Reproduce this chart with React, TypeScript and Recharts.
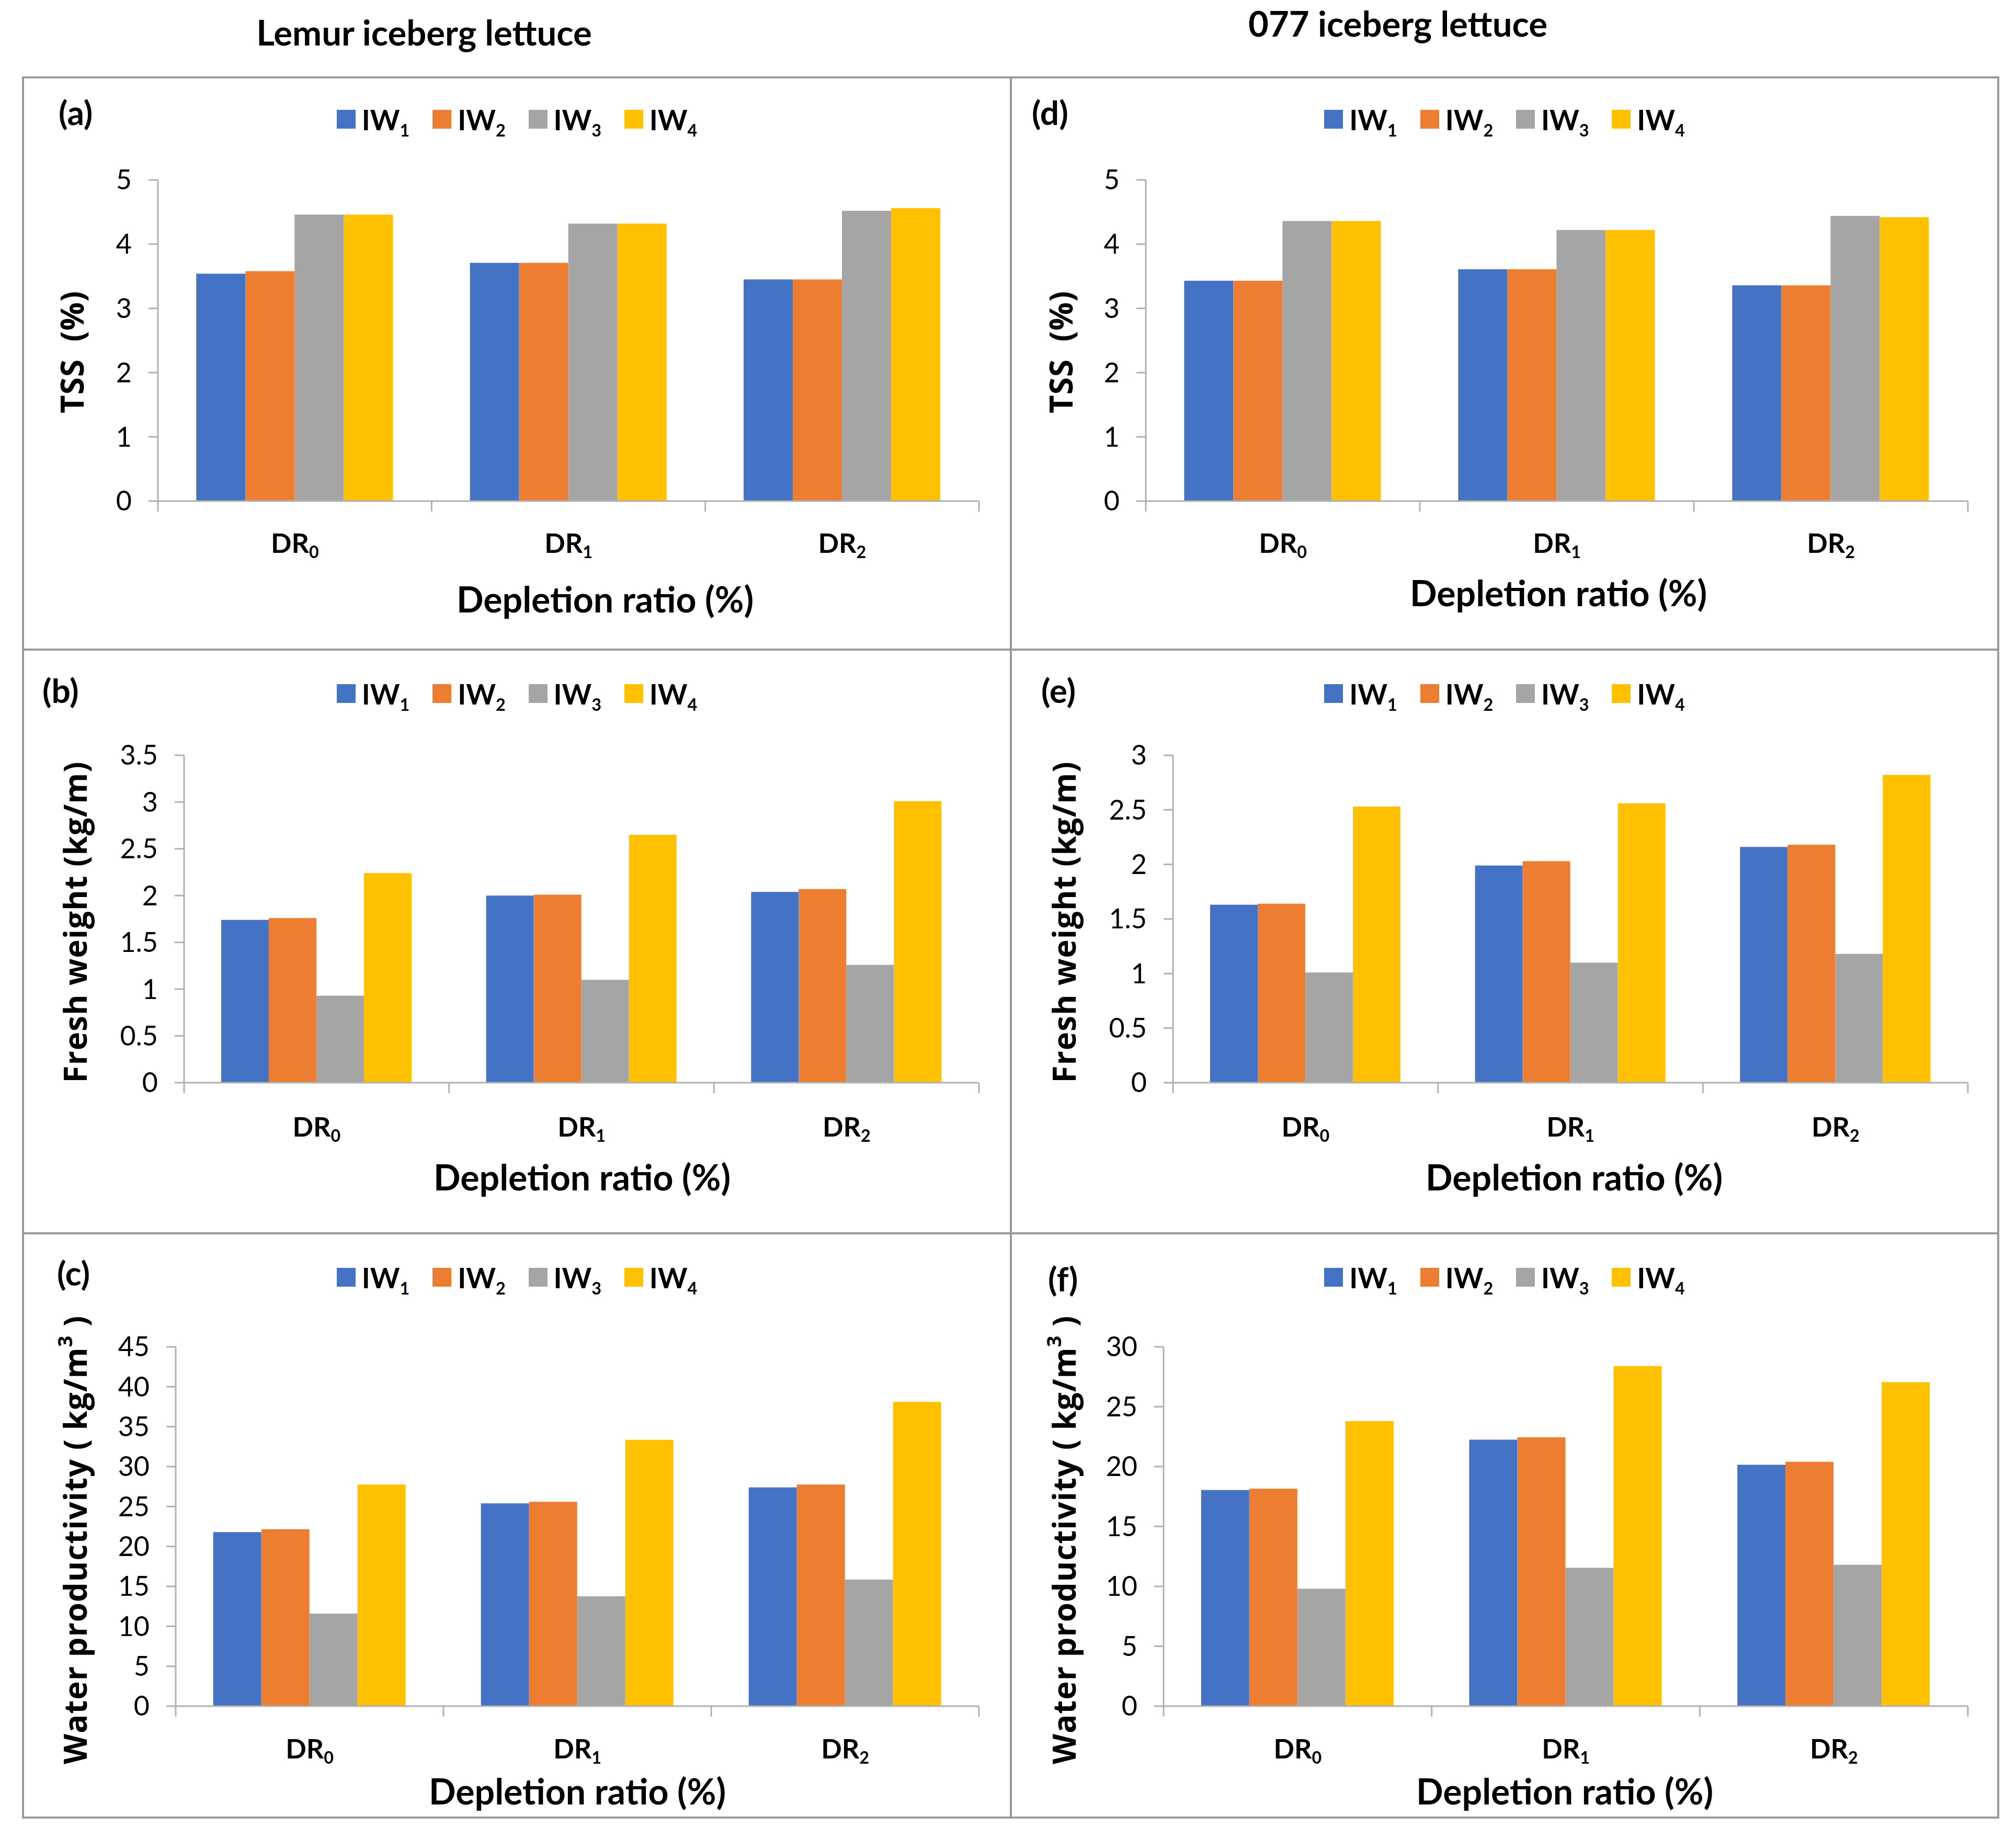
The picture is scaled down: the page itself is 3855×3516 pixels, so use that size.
import React from 'react';
import { BarChart, Bar, XAxis, YAxis, Legend } from 'recharts';

const FONT = "Lato, 'Open Sans', sans-serif";
const LABEL_FONT = "'Open Sans', 'DejaVu Sans', sans-serif";
const AXIS = '#b0b0b0';

const categories = ['DR0', 'DR1', 'DR2'];
const seriesNames = ['IW1', 'IW2', 'IW3', 'IW4'];
const seriesColors = ['#4472C4', '#ED7D31', '#A5A5A5', '#FFC000'];

// one row per series (IW1..IW4), values for DR0, DR1, DR2
const tssLemur = [[3.54, 3.71, 3.45], [3.58, 3.71, 3.45], [4.46, 4.32, 4.52], [4.46, 4.32, 4.56]];
const tss077 = [[3.43, 3.61, 3.36], [3.43, 3.61, 3.36], [4.36, 4.22, 4.44], [4.36, 4.22, 4.42]];
const freshLemur = [[1.74, 2.0, 2.04], [1.76, 2.01, 2.07], [0.93, 1.1, 1.26], [2.24, 2.65, 3.01]];
const fresh077 = [[1.63, 1.99, 2.16], [1.64, 2.03, 2.18], [1.01, 1.1, 1.18], [2.53, 2.56, 2.82]];
const wpLemur = [[21.8, 25.4, 27.4], [22.15, 25.6, 27.75], [11.6, 13.75, 15.85], [27.75, 33.35, 38.1]];
const wp077 = [[18.05, 22.25, 20.15], [18.15, 22.45, 20.4], [9.8, 11.55, 11.8], [23.8, 28.4, 27.05]];

const tssTicks = [0, 1, 2, 3, 4, 5];
const freshLemurTicks = [0, 0.5, 1, 1.5, 2, 2.5, 3, 3.5];
const fresh077Ticks = [0, 0.5, 1, 1.5, 2, 2.5, 3];
const wpLemurTicks = [0, 5, 10, 15, 20, 25, 30, 35, 40, 45];
const wp077Ticks = [0, 5, 10, 15, 20, 25, 30];

const columnTitles = ['Lemur iceberg lettuce', '077 iceberg lettuce'];

// layout in page pixels: box [x, y, w, h], plot [left, top, right, bottom]
const panels = [
  { letter: '(a)', values: tssLemur, ticks: tssTicks, yLabel: 'tss', box: [44, 148, 1889, 1094], plot: [302, 344, 1872, 958], legendY: 228, letterPos: [112, 215], yLabelPos: [137, 673], catY: 1040, xTitlePos: [1157, 1148] },
  { letter: '(d)', values: tss077, ticks: tssTicks, yLabel: 'tss', box: [1933, 148, 1888, 1094], plot: [2191, 344, 3763, 958], legendY: 228, letterPos: [1973, 215], yLabelPos: [2028, 673], catY: 1040, xTitlePos: [2980, 1136] },
  { letter: '(b)', values: freshLemur, ticks: freshLemurTicks, yLabel: 'fresh', box: [44, 1242, 1889, 1116], plot: [352, 1444, 1872, 2070], legendY: 1326, letterPos: [81, 1320], yLabelPos: [143, 1763], catY: 2156, xTitlePos: [1113, 2253] },
  { letter: '(e)', values: fresh077, ticks: fresh077Ticks, yLabel: 'fresh', box: [1933, 1242, 1888, 1116], plot: [2243, 1444, 3763, 2070], legendY: 1326, letterPos: [1991, 1320], yLabelPos: [2034, 1763], catY: 2156, xTitlePos: [3010, 2253] },
  { letter: '(c)', values: wpLemur, ticks: wpLemurTicks, yLabel: 'wp', box: [44, 2358, 1889, 1117], plot: [336, 2575, 1872, 3262], legendY: 2442, letterPos: [109, 2434], yLabelPos: [143, 2944], catY: 3345, xTitlePos: [1104, 3427] },
  { letter: '(f)', values: wp077, ticks: wp077Ticks, yLabel: 'wp', box: [1933, 2358, 1888, 1117], plot: [2225, 2575, 3763, 3262], legendY: 2442, letterPos: [2004, 2445], yLabelPos: [2034, 2944], catY: 3345, xTitlePos: [2992, 3427] },
];

function YLabelText({ kind, x, y }: { kind: string; x: number; y: number }) {
  const common = {
    x, y, textAnchor: 'middle' as const, transform: `rotate(-90, ${x}, ${y})`,
    fontFamily: LABEL_FONT, fontSize: 60, fontWeight: 700, fill: '#000', dominantBaseline: 'central' as const,
    style: { whiteSpace: 'pre' as const, letterSpacing: 1 },
  };
  if (kind === 'tss') return <text {...common}>{'TSS  (%)'}</text>;
  if (kind === 'fresh') return <text {...common}>Fresh weight (kg/m)</text>;
  return (
    <text {...common}>
      <tspan>{'Water productivity ( kg/m'}</tspan>
      <tspan fontSize={38} dy={-20}>3</tspan>
      <tspan dy={20}>{' )'}</tspan>
    </text>
  );
}

function CategoryTick(props: any) {
  const { x, y, payload, index, bw, labelDy } = props;
  const label = String(payload.value);
  return (
    <g>
      <line x1={x - bw / 2} x2={x - bw / 2} y1={y} y2={y + 20} stroke={AXIS} strokeWidth={3} />
      {index === categories.length - 1 && (
        <line x1={x + bw / 2} x2={x + bw / 2} y1={y} y2={y + 20} stroke={AXIS} strokeWidth={3} />
      )}
      <text x={x} y={y + labelDy} textAnchor="middle" fontFamily={FONT} fontSize={52} fontWeight={700} fill="#000">
        <tspan>{label.slice(0, 2)}</tspan>
        <tspan fontSize={32} dy={10}>{label.slice(2)}</tspan>
      </text>
    </g>
  );
}

function renderLegend(props: any) {
  const { payload } = props;
  return (
    <div style={{ display: 'flex', justifyContent: 'center', alignItems: 'center', height: 60, fontFamily: FONT, fontSize: 54, fontWeight: 700, color: '#000' }}>
      {(payload || []).map((p: any, i: number) => (
        <div key={p.value} style={{ display: 'flex', alignItems: 'center', marginLeft: i ? 44 : 0 }}>
          <span style={{ width: 36, height: 36, background: p.color, display: 'inline-block', marginRight: 12 }} />
          <span>
            {String(p.value).slice(0, 2)}
            <span style={{ fontSize: 32, position: 'relative', top: 12 }}>{String(p.value).slice(2)}</span>
          </span>
        </div>
      ))}
    </div>
  );
}

function Panel({ cfg }: { cfg: any }) {
  const [bx, by, bw, bh] = cfg.box;
  const [pl, pt, pr, pb] = cfg.plot;
  const rows = categories.map((c, ci) => {
    const row: any = { cat: c };
    seriesNames.forEach((s, si) => { row[s] = cfg.values[si][ci]; });
    return row;
  });
  const band = (pr - pl) / categories.length;
  const max = cfg.ticks[cfg.ticks.length - 1];
  return (
    <div style={{ position: 'absolute', left: bx, top: by, width: bw, height: bh }}>
      <BarChart
        width={bw}
        height={bh}
        data={rows}
        margin={{ top: pt - by, right: bx + bw - pr, bottom: 0, left: 0 }}
        barCategoryGap="14%"
        barGap={0}
      >
        <XAxis
          dataKey="cat"
          height={by + bh - pb}
          interval={0}
          axisLine={{ stroke: AXIS, strokeWidth: 3 }}
          tickLine={false}
          tickSize={0}
          tickMargin={0}
          tick={(p: any) => <CategoryTick {...p} bw={band} labelDy={cfg.catY - pb + 17} />}
          label={() => (
            <text x={cfg.xTitlePos[0] - bx} y={cfg.xTitlePos[1] - by + 23} textAnchor="middle" fontFamily={FONT} fontSize={68} fontWeight={700} fill="#000">
              Depletion ratio (%)
            </text>
          )}
        />
        <YAxis
          width={pl - bx}
          domain={[0, max]}
          ticks={cfg.ticks}
          interval={0}
          allowDataOverflow
          axisLine={{ stroke: AXIS, strokeWidth: 3 }}
          tickLine={{ stroke: AXIS, strokeWidth: 3 }}
          tickSize={18}
          tickMargin={32}
          tick={{ fontFamily: FONT, fontSize: 52, fill: '#000' }}
          label={() => <YLabelText kind={cfg.yLabel} x={cfg.yLabelPos[0] - bx} y={cfg.yLabelPos[1] - by} />}
        />
        <Legend
          layout="horizontal"
          verticalAlign="middle"
          align="center"
          content={renderLegend}
          wrapperStyle={{ top: cfg.legendY - by - 30, left: 0, width: bw, height: 60 }}
        />
        {seriesNames.map((s, i) => (
          <Bar key={s} dataKey={s} name={s} fill={seriesColors[i]} isAnimationActive={false} />
        ))}
      </BarChart>
      <div style={{ position: 'absolute', left: cfg.letterPos[0] - bx, top: cfg.letterPos[1] - by - 40, height: 80, lineHeight: '80px', fontFamily: FONT, fontSize: 64, fontWeight: 700, color: '#000' }}>
        {cfg.letter}
      </div>
    </div>
  );
}

const vLines = [44, 1933, 3821];
const hLines = [148, 1242, 2358, 3475];

export default function App() {
  return (
    <div style={{ position: 'absolute', left: 0, top: 0, width: 3855, height: 3516, background: '#fff', overflow: 'hidden' }}>
      <div style={{ position: 'absolute', left: 811 - 600, top: 61 - 45, width: 1200, height: 90, lineHeight: '90px', textAlign: 'center', fontFamily: FONT, fontSize: 67, fontWeight: 700, color: '#000' }}>
        {columnTitles[0]}
      </div>
      <div style={{ position: 'absolute', left: 2673 - 600, top: 44 - 45, width: 1200, height: 90, lineHeight: '90px', textAlign: 'center', fontFamily: FONT, fontSize: 67, fontWeight: 700, color: '#000' }}>
        {columnTitles[1]}
      </div>
      {panels.map((p) => <Panel key={p.letter} cfg={p} />)}
      {vLines.map((x) => (
        <div key={'v' + x} style={{ position: 'absolute', left: x - 2, top: 148 - 2, width: 4, height: 3475 - 148 + 4, background: '#9a9a9a' }} />
      ))}
      {hLines.map((y) => (
        <div key={'h' + y} style={{ position: 'absolute', left: 44 - 2, top: y - 2, width: 3821 - 44 + 4, height: 4, background: '#9a9a9a' }} />
      ))}
    </div>
  );
}
